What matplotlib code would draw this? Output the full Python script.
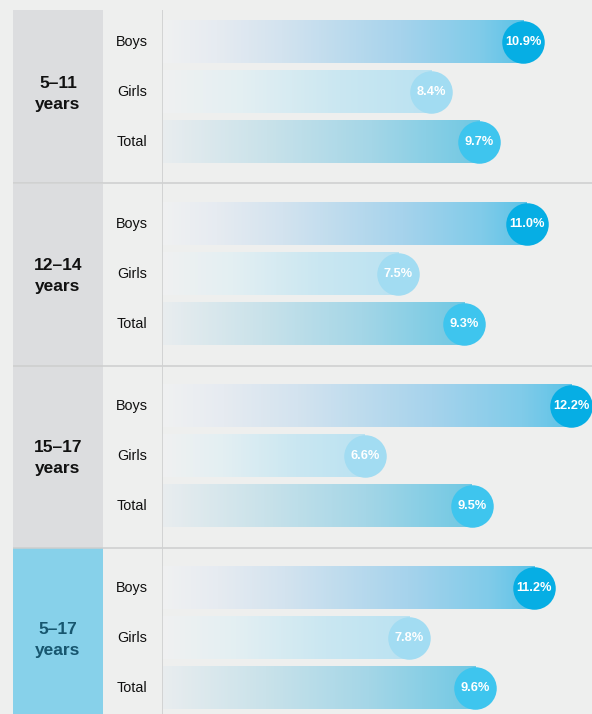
import numpy as np
import matplotlib
matplotlib.use("Agg")
import matplotlib.pyplot as plt
from matplotlib.colors import LinearSegmentedColormap

plt.rcParams['font.family'] = ['Liberation Sans', 'DejaVu Sans']

# Data
age_groups = ["5\u201311\nyears", "12\u201314\nyears", "15\u201317\nyears", "5\u201317\nyears"]
sub_groups = ["Boys", "Girls", "Total"]
boys = [10.9, 11.0, 12.2, 11.2]
girls = [8.4, 7.5, 6.6, 7.8]
total = [9.7, 9.3, 9.5, 9.6]
values = [boys, girls, total]

# Style
BG = "#eeefee"
BOX_GRAY = "#dcdddf"
BOX_BLUE = "#87d1ea"
LINE = "#cdcece"
grad_stops = {
    "Boys": [(0.0, "#f0f1f2"), (0.15, "#e6ebf1"), (0.33, "#d3e3ef"),
             (0.66, "#a6d3ec"), (0.88, "#80cbe9"), (1.0, "#5cc3e7")],
    "Girls": [(0.0, "#f0f1f1"), (0.3, "#e3eff3"), (0.66, "#cae7f1"),
              (1.0, "#bae2f2")],
    "Total": [(0.0, "#e9edef"), (0.33, "#c9e2ea"), (0.66, "#a4d6e7"),
              (1.0, "#70c8e3")],
}
dot_colors = {"Boys": "#06aee4", "Girls": "#a2dcf2", "Total": "#3ec5ee"}

W, H, DPI = 592, 714, 100
ROW_PX = 50.0
TOP_PX = 10
GROUP_PITCH = 3.64
BAR_H = 0.85
DOT_SIZE = 30.6
XLIM = (1.087, 12.77)

fig = plt.figure(figsize=(W / DPI, H / DPI), dpi=DPI, facecolor=BG)
ax_h = (H - TOP_PX) / H
ax = fig.add_axes([162 / W, 0, (W - 162) / W, ax_h])
axl = fig.add_axes([13 / W, 0, (162 - 13) / W, ax_h], sharey=ax)
for a in (ax, axl):
    a.set_facecolor("none")
    a.set_xticks([])
    a.set_yticks([])
    for s in a.spines.values():
        s.set_visible(False)

y_top = -32.2 / ROW_PX
y_bot = y_top + (H - TOP_PX) / ROW_PX

n_groups = len(age_groups)
seps = [g * GROUP_PITCH - 0.814 for g in range(1, n_groups)]
bounds = [y_top] + seps + [y_bot]

# Left column: age-group boxes, labels and sub-labels
axl.set_xlim(0, 149)
for g, label in enumerate(age_groups):
    last = g == n_groups - 1
    axl.axhspan(bounds[g], bounds[g + 1], xmin=0, xmax=90 / 149,
                color=BOX_BLUE if last else BOX_GRAY, lw=0, zorder=0)
    axl.text(45, g * GROUP_PITCH + 1.04, label, ha="center", va="center",
             fontsize=12.5, fontweight="bold", linespacing=1.45,
             color="#17566f" if last else "#111111")
    for r, sub in enumerate(sub_groups):
        axl.text(119, g * GROUP_PITCH + r, sub, ha="center", va="center",
                 fontsize=10.4, color="#111111")

for s in seps:
    axl.axhline(s, color=LINE, lw=1.1, zorder=2)
    ax.axhline(s, color=LINE, lw=1.1, zorder=2)
ax.axvline(XLIM[0], color="#d0d1d1", lw=1.3, zorder=3)

# Bars with gradient fill and a value dot at the end
grad = np.linspace(0, 1, 256).reshape(1, -1)
for r, sub in enumerate(sub_groups):
    cmap = LinearSegmentedColormap.from_list(sub, grad_stops[sub])
    for g in range(n_groups):
        v = values[r][g]
        y = g * GROUP_PITCH + r
        ax.imshow(grad, cmap=cmap, aspect="auto", interpolation="bilinear",
                  extent=(XLIM[0], v, y + BAR_H / 2, y - BAR_H / 2), zorder=1)
        ax.plot([v], [y], "o", ms=DOT_SIZE, color=dot_colors[sub],
                mec="none", zorder=4, clip_on=False)
        ax.text(v, y, f"{v:.1f}%", ha="center", va="center", color="white",
                fontsize=9.2, fontweight="bold", zorder=5)

ax.set_xlim(*XLIM)
ax.set_ylim(y_bot, y_top)

fig.savefig("out.png", dpi=DPI, facecolor=BG)
